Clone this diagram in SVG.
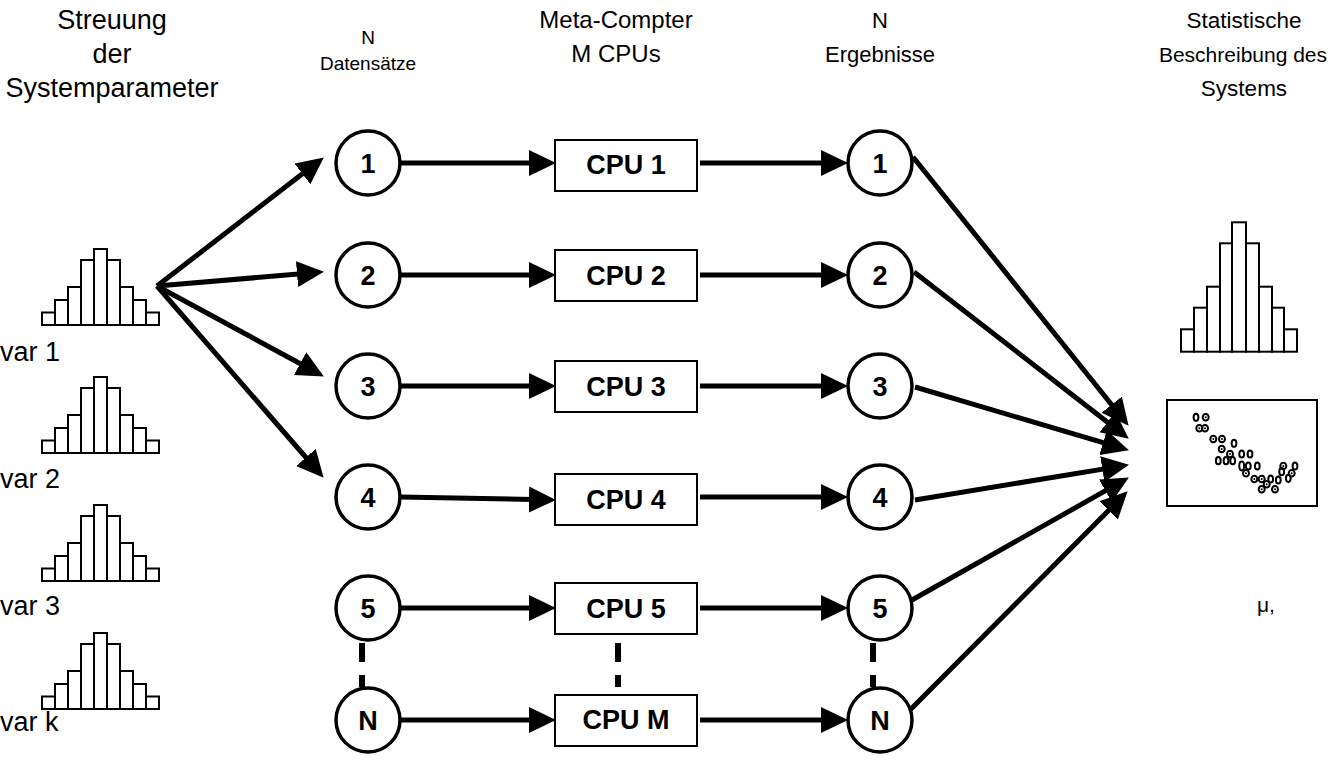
<svg xmlns="http://www.w3.org/2000/svg" width="1331" height="774" viewBox="0 0 1331 774">
<defs>
<style>
.lbl{font-family:"Liberation Sans",Arial,sans-serif;font-size:24px;fill:#000;text-anchor:middle}
.big{font-size:27px}
.mid{font-size:22px}
.st{font-size:22.5px}
.sm{font-size:19px}
.var{font-family:"Liberation Sans",Arial,sans-serif;font-size:27px;fill:#000}
.num{font-family:"Liberation Sans",Arial,sans-serif;font-size:27px;font-weight:bold;fill:#000;text-anchor:middle}
.cpu{font-family:"Liberation Sans",Arial,sans-serif;font-size:27px;font-weight:bold;fill:#000;text-anchor:middle}
.circ{fill:#fff;stroke:#000;stroke-width:3.5}
.box{fill:#fff;stroke:#000;stroke-width:2}
.bar{fill:#fff;stroke:#000;stroke-width:2}
.arr{stroke:#000;stroke-width:5;fill:none;marker-end:url(#ah)}
.dash{stroke:#000;stroke-width:6}
.pt{fill:none;stroke:#000;stroke-width:2}
.dot{fill:#000}
</style>
<marker id="ah" markerUnits="userSpaceOnUse" markerWidth="28" markerHeight="28" refX="16" refY="13" orient="auto">
<path d="M0,0 L27,13 L0,26 z" fill="#000"/>
</marker>
<g id="hist">
<rect class="bar" x="0" y="63.5" width="13" height="12.5"/>
<rect class="bar" x="13" y="51" width="13" height="25"/>
<rect class="bar" x="26" y="38" width="13" height="38"/>
<rect class="bar" x="39" y="11" width="13" height="65"/>
<rect class="bar" x="52" y="0" width="13" height="76"/>
<rect class="bar" x="65" y="11" width="13" height="65"/>
<rect class="bar" x="78" y="38" width="13" height="38"/>
<rect class="bar" x="91" y="51" width="13" height="25"/>
<rect class="bar" x="104" y="63.5" width="13" height="12.5"/>
</g>
</defs>
<rect width="1331" height="774" fill="#fff"/>

<g id="headers">
<text class="lbl big" x="112" y="29">Streuung</text>
<text class="lbl big" x="112" y="63">der</text>
<text class="lbl big" x="112" y="97">Systemparameter</text>
<text class="lbl sm" x="368" y="44">N</text>
<text class="lbl sm" x="368" y="70">Datensätze</text>
<text class="lbl" x="616" y="28">Meta-Compter</text>
<text class="lbl" x="616" y="62">M CPUs</text>
<text class="lbl mid" x="880" y="28">N</text>
<text class="lbl mid" x="880" y="62">Ergebnisse</text>
<text class="lbl st" x="1244" y="28">Statistische</text>
<text class="lbl" x="1243" y="62" style="font-size:21px">Beschreibung des</text>
<text class="lbl st" x="1244" y="96">Systems</text>
</g>

<g id="inputs">
<use href="#hist" x="42" y="249"/>
<text class="var" x="0" y="361">var 1</text>
<use href="#hist" x="42" y="377"/>
<text class="var" x="0" y="488">var 2</text>
<use href="#hist" x="42" y="505"/>
<text class="var" x="0" y="615">var 3</text>
<use href="#hist" x="42" y="633"/>
<text class="var" x="0" y="731">var k</text>
</g>

<g id="connectors">
<line class="arr" x1="157" y1="286" x2="315.1" y2="164.1"/>
<line class="arr" x1="157" y1="286" x2="313" y2="272.8"/>
<line class="arr" x1="157" y1="286" x2="314.2" y2="371.2"/>
<line class="arr" x1="157" y1="286" x2="316.4" y2="469.5"/>

<line class="arr" x1="400" y1="163" x2="545" y2="163"/>
<line class="arr" x1="400" y1="275" x2="545" y2="275"/>
<line class="arr" x1="400" y1="386" x2="545" y2="386"/>
<line class="arr" x1="400" y1="497" x2="545" y2="499.8"/>
<line class="arr" x1="400" y1="608" x2="545" y2="608"/>
<line class="arr" x1="400" y1="720" x2="545" y2="720"/>

<line class="arr" x1="700" y1="163" x2="837" y2="163"/>
<line class="arr" x1="700" y1="275" x2="837" y2="275"/>
<line class="arr" x1="700" y1="386" x2="837" y2="386"/>
<line class="arr" x1="700" y1="497" x2="837" y2="497"/>
<line class="arr" x1="700" y1="608" x2="837" y2="608"/>
<line class="arr" x1="700" y1="720" x2="837" y2="720"/>

<line class="arr" x1="913" y1="157" x2="1121.7" y2="417.2"/>
<line class="arr" x1="914" y1="272" x2="1120.1" y2="431.9"/>
<line class="arr" x1="915" y1="387" x2="1118.4" y2="447.2"/>
<line class="arr" x1="915" y1="500" x2="1118.1" y2="466.6"/>
<line class="arr" x1="912" y1="600" x2="1119.3" y2="482.9"/>
<line class="arr" x1="910" y1="710" x2="1119.9" y2="499.1"/>

<line class="dash" x1="362" y1="643" x2="362" y2="662"/>
<line class="dash" x1="362" y1="675" x2="362" y2="687"/>
<line class="dash" x1="618" y1="643" x2="618" y2="662"/>
<line class="dash" x1="618" y1="675" x2="618" y2="687"/>
<line class="dash" x1="873" y1="643" x2="873" y2="662"/>
<line class="dash" x1="873" y1="675" x2="873" y2="687"/>
</g>

<g id="d1"><circle class="circ" cx="368" cy="163" r="32"/><text class="num" x="368" y="173">1</text></g>
<g id="d2"><circle class="circ" cx="368" cy="275" r="32"/><text class="num" x="368" y="285">2</text></g>
<g id="d3"><circle class="circ" cx="368" cy="386" r="32"/><text class="num" x="368" y="396">3</text></g>
<g id="d4"><circle class="circ" cx="368" cy="497" r="32"/><text class="num" x="368" y="507">4</text></g>
<g id="d5"><circle class="circ" cx="368" cy="608" r="32"/><text class="num" x="368" y="618">5</text></g>
<g id="dN"><circle class="circ" cx="368" cy="720" r="32"/><text class="num" x="368" y="730">N</text></g>

<g id="cpu1"><rect class="box" x="555" y="140" width="142" height="51"/><text class="cpu" x="626" y="174">CPU 1</text></g>
<g id="cpu2"><rect class="box" x="555" y="250" width="142" height="51"/><text class="cpu" x="626" y="285">CPU 2</text></g>
<g id="cpu3"><rect class="box" x="555" y="361" width="142" height="51"/><text class="cpu" x="626" y="396">CPU 3</text></g>
<g id="cpu4"><rect class="box" x="555" y="474" width="142" height="51"/><text class="cpu" x="626" y="509">CPU 4</text></g>
<g id="cpu5"><rect class="box" x="555" y="583" width="142" height="51"/><text class="cpu" x="626" y="618">CPU 5</text></g>
<g id="cpuM"><rect class="box" x="555" y="695" width="142" height="51"/><text class="cpu" x="626" y="729">CPU M</text></g>

<g id="r1"><circle class="circ" cx="880" cy="163" r="32"/><text class="num" x="880" y="173">1</text></g>
<g id="r2"><circle class="circ" cx="880" cy="275" r="32"/><text class="num" x="880" y="285">2</text></g>
<g id="r3"><circle class="circ" cx="880" cy="386" r="32"/><text class="num" x="880" y="396">3</text></g>
<g id="r4"><circle class="circ" cx="880" cy="497" r="32"/><text class="num" x="880" y="507">4</text></g>
<g id="r5"><circle class="circ" cx="880" cy="608" r="32"/><text class="num" x="880" y="618">5</text></g>
<g id="rN"><circle class="circ" cx="880" cy="720" r="32"/><text class="num" x="880" y="730">N</text></g>

<g id="result-hist">
<rect class="bar" x="1181" y="329.3" width="13" height="22.4"/>
<rect class="bar" x="1194" y="307.7" width="13" height="44"/>
<rect class="bar" x="1207" y="286.7" width="13" height="65"/>
<rect class="bar" x="1220" y="243.3" width="12" height="108.4"/>
<rect class="bar" x="1232" y="222.3" width="14" height="129.4"/>
<rect class="bar" x="1246" y="243.3" width="13" height="108.4"/>
<rect class="bar" x="1259" y="286.7" width="13" height="65"/>
<rect class="bar" x="1272" y="307.7" width="12" height="44"/>
<rect class="bar" x="1284" y="329.3" width="13" height="22.4"/>
</g>

<g id="scatter">
<rect class="box" x="1167" y="400" width="150" height="106"/>
<ellipse class="pt" cx="1196" cy="417.3" rx="2.4" ry="3.6"/>
<ellipse class="pt" cx="1205.7" cy="417.3" rx="3" ry="3.3"/><circle class="dot" cx="1205.7" cy="417.3" r="1"/>
<ellipse class="pt" cx="1199.3" cy="428.3" rx="3" ry="3.3"/><circle class="dot" cx="1199.3" cy="428.3" r="1"/>
<ellipse class="pt" cx="1205" cy="428.3" rx="3" ry="3.3"/><circle class="dot" cx="1205" cy="428.3" r="1"/>
<ellipse class="pt" cx="1213.3" cy="439" rx="3" ry="3.3"/><circle class="dot" cx="1213.3" cy="439" r="1"/>
<ellipse class="pt" cx="1222" cy="439" rx="3" ry="3.3"/><circle class="dot" cx="1222" cy="439" r="1"/>
<ellipse class="pt" cx="1234" cy="443.3" rx="2.4" ry="3.6"/>
<ellipse class="pt" cx="1221.7" cy="449" rx="3" ry="3.3"/><circle class="dot" cx="1221.7" cy="449" r="1"/>
<ellipse class="pt" cx="1230" cy="454" rx="3" ry="3.3"/><circle class="dot" cx="1230" cy="454" r="1"/>
<ellipse class="pt" cx="1218.3" cy="460.7" rx="2.4" ry="3.6"/>
<ellipse class="pt" cx="1226" cy="460.7" rx="2.4" ry="3.6"/>
<ellipse class="pt" cx="1232.7" cy="460.7" rx="2.4" ry="3.6"/>
<ellipse class="pt" cx="1241.7" cy="454" rx="2.4" ry="3.6"/>
<ellipse class="pt" cx="1250" cy="454" rx="2.4" ry="3.6"/>
<ellipse class="pt" cx="1241.7" cy="466" rx="2.4" ry="4.4"/>
<ellipse class="pt" cx="1248.3" cy="466" rx="2.4" ry="3.6"/>
<ellipse class="pt" cx="1257.3" cy="466" rx="2.4" ry="3.6"/>
<ellipse class="pt" cx="1246" cy="473.3" rx="3" ry="3.3"/><circle class="dot" cx="1246" cy="473.3" r="1"/>
<ellipse class="pt" cx="1254.3" cy="479" rx="3" ry="3.3"/><circle class="dot" cx="1254.3" cy="479" r="1"/>
<ellipse class="pt" cx="1261.7" cy="479" rx="3" ry="3.3"/><circle class="dot" cx="1261.7" cy="479" r="1"/>
<ellipse class="pt" cx="1266.7" cy="484.3" rx="3" ry="3.3"/><circle class="dot" cx="1266.7" cy="484.3" r="1"/>
<ellipse class="pt" cx="1270.7" cy="479" rx="2.4" ry="3.6"/>
<ellipse class="pt" cx="1261.7" cy="489.3" rx="3" ry="3.3"/><circle class="dot" cx="1261.7" cy="489.3" r="1"/>
<ellipse class="pt" cx="1275" cy="489.3" rx="3" ry="3.3"/><circle class="dot" cx="1275" cy="489.3" r="1"/>
<ellipse class="pt" cx="1278.3" cy="480" rx="2.4" ry="3.6"/>
<ellipse class="pt" cx="1281.7" cy="471.7" rx="2.4" ry="3.6"/>
<ellipse class="pt" cx="1283.3" cy="466" rx="3" ry="3.3"/><circle class="dot" cx="1283.3" cy="466" r="1"/>
<ellipse class="pt" cx="1288.3" cy="478.3" rx="2.4" ry="3.6"/>
<ellipse class="pt" cx="1291.7" cy="473.3" rx="3" ry="3.3"/><circle class="dot" cx="1291.7" cy="473.3" r="1"/>
<ellipse class="pt" cx="1295" cy="466" rx="2.4" ry="3.6"/>
</g>

<g id="stat-text"><text class="var" x="1257" y="612" style="font-size:21px">μ,</text></g>
</svg>
